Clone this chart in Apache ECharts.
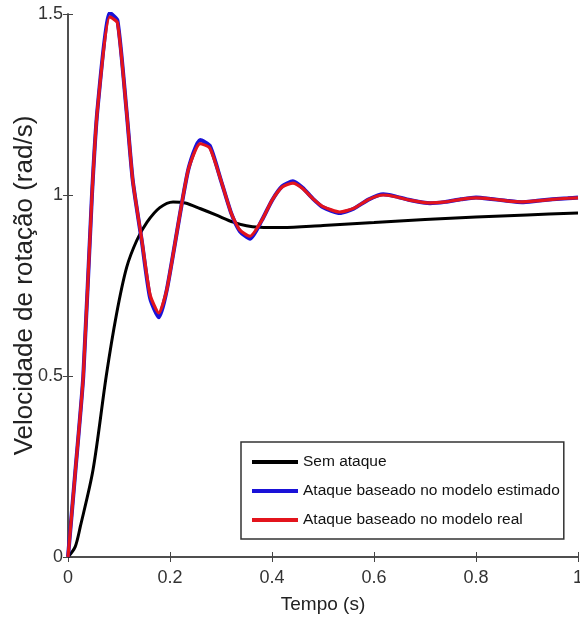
<!DOCTYPE html>
<html>
<head>
<meta charset="utf-8">
<script src="https://cdn.jsdelivr.net/npm/echarts@6/dist/echarts.min.js"></script>
<style>
html,body{margin:0;padding:0;background:#fff;}
#chart{width:580px;height:620px;}
</style>
</head>
<body>
<div id="chart"></div>
<script>
// ---- data ----
const seriesNames = ['Sem ataque', 'Ataque baseado no modelo estimado', 'Ataque baseado no modelo real'];

const tBlack = [0, 0.014, 0.024, 0.049, 0.075, 0.095, 0.115, 0.135, 0.155, 0.18, 0.206, 0.23, 0.26, 0.29, 0.324, 0.35, 0.376, 0.42, 0.5, 0.6, 0.7, 0.8, 0.9, 1.0];
const vBlack = [0, 0.028, 0.083, 0.24, 0.50, 0.67, 0.80, 0.875, 0.925, 0.965, 0.981, 0.978, 0.962, 0.945, 0.925, 0.915, 0.911, 0.910, 0.916, 0.924, 0.932, 0.939, 0.945, 0.950];

const tAttack = [0, 0.014, 0.03, 0.047, 0.058, 0.082, 0.097, 0.115, 0.127, 0.145, 0.161, 0.178, 0.194, 0.235, 0.259, 0.278, 0.30, 0.32, 0.337, 0.357, 0.38, 0.40, 0.42, 0.441, 0.46, 0.48, 0.50, 0.533, 0.56, 0.59, 0.618, 0.64, 0.67, 0.71, 0.74, 0.77, 0.80, 0.83, 0.86, 0.89, 0.92, 0.95, 0.98, 1.0];
const vReal   = [0, 0.23, 0.50, 1.00, 1.24, 1.492, 1.476, 1.229, 1.04, 0.873, 0.724, 0.674, 0.74, 1.065, 1.142, 1.130, 1.04, 0.95, 0.903, 0.886, 0.93, 0.985, 1.022, 1.033, 1.018, 0.99, 0.968, 0.953, 0.963, 0.988, 1.0, 0.996, 0.986, 0.978, 0.981, 0.988, 0.992, 0.989, 0.984, 0.981, 0.984, 0.988, 0.991, 0.992];
const vEstim  = [0, 0.23, 0.50, 1.00, 1.24, 1.503, 1.482, 1.229, 1.04, 0.870, 0.715, 0.662, 0.74, 1.065, 1.152, 1.136, 1.04, 0.95, 0.900, 0.879, 0.93, 0.985, 1.024, 1.038, 1.020, 0.99, 0.966, 0.950, 0.962, 0.988, 1.002, 0.997, 0.986, 0.977, 0.981, 0.988, 0.993, 0.989, 0.984, 0.980, 0.984, 0.988, 0.991, 0.993];

const xTicks = [0, 0.2, 0.4, 0.6, 0.8, 1];
const yTicks = [0, 0.5, 1, 1.5];

function pairs(t, v) { return t.map((x, i) => [x, v[i]]); }
function fmt(v) { return String(Math.round(v * 10) / 10); }

const sans = "'Liberation Sans', Arial, sans-serif";
const axisColor = '#444';

const chart = echarts.init(document.getElementById('chart'), null, {renderer: 'canvas'});
chart.setOption({
  animation: false,
  backgroundColor: '#fff',
  grid: {left: 68, top: 14, right: 2, bottom: 63, containLabel: false, outerBoundsMode: 'none'},
  legend: {
    orient: 'vertical',
    left: 241, top: 442,
    backgroundColor: '#fff',
    borderColor: '#333', borderWidth: 1.5,
    padding: [10, 4, 9, 11],
    itemGap: 9,
    itemWidth: 46, itemHeight: 4,
    icon: 'rect',
    textStyle: {fontFamily: sans, fontSize: 15.5, color: '#111', lineHeight: 20},
    data: seriesNames
  },
  xAxis: [{
    type: 'value', min: 0, max: 1, interval: 0.2,
    name: 'Tempo (s)', nameLocation: 'middle', nameGap: 38, nameMoveOverlap: false,
    nameTextStyle: {fontFamily: sans, fontSize: 19, color: '#222'},
    axisLine: {show: true, lineStyle: {color: axisColor, width: 1.5}},
    axisTick: {show: true, inside: true, length: 5, lineStyle: {color: axisColor}},
    axisLabel: {fontFamily: sans, fontSize: 18, color: '#333', margin: 12,
      formatter: v => xTicks.indexOf(Math.round(v*10)/10) >= 0 ? fmt(v) : ''},
    splitLine: {show: false}
  }, {
    type: 'value', min: 0, max: 1, interval: 0.2, position: 'top',
    axisLine: {show: true, lineStyle: {color: axisColor, width: 1.5}},
    axisTick: {show: true, inside: true, length: 5, lineStyle: {color: axisColor}},
    axisLabel: {show: false}, splitLine: {show: false}
  }],
  yAxis: [{
    type: 'value', min: 0, max: 1.5, interval: 0.5,
    name: 'Velocidade de rotação (rad/s)', nameLocation: 'middle', nameGap: 30, nameMoveOverlap: false,
    nameTextStyle: {fontFamily: sans, fontSize: 26, color: '#222'},
    axisLine: {show: true, lineStyle: {color: axisColor, width: 1.5}},
    axisTick: {show: true, inside: true, length: 5, lineStyle: {color: axisColor}},
    axisLabel: {fontFamily: sans, fontSize: 18, color: '#333', margin: 5,
      formatter: v => yTicks.indexOf(Math.round(v*10)/10) >= 0 ? fmt(v) : ''},
    splitLine: {show: false}
  }, {
    type: 'value', min: 0, max: 1.5, interval: 0.5, position: 'right',
    axisLine: {show: true, lineStyle: {color: axisColor, width: 1.5}},
    axisTick: {show: true, inside: true, length: 5, lineStyle: {color: axisColor}},
    axisLabel: {show: false}, splitLine: {show: false}
  }],
  series: [{
    name: seriesNames[0], type: 'line', showSymbol: false, symbol: 'none', smooth: 0.3,
    data: pairs(tBlack, vBlack),
    lineStyle: {color: '#000', width: 3}, itemStyle: {color: '#000'}, z: 2
  }, {
    name: seriesNames[1], type: 'line', showSymbol: false, symbol: 'none', smooth: 0.2,
    data: pairs(tAttack, vEstim),
    lineStyle: {color: '#1a12d8', width: 4}, itemStyle: {color: '#1a12d8'}, z: 3
  }, {
    name: seriesNames[2], type: 'line', showSymbol: false, symbol: 'none', smooth: 0.2,
    data: pairs(tAttack, vReal),
    lineStyle: {color: '#e3141c', width: 3.2}, itemStyle: {color: '#e3141c'}, z: 4
  }]
});
</script>
</body>
</html>
